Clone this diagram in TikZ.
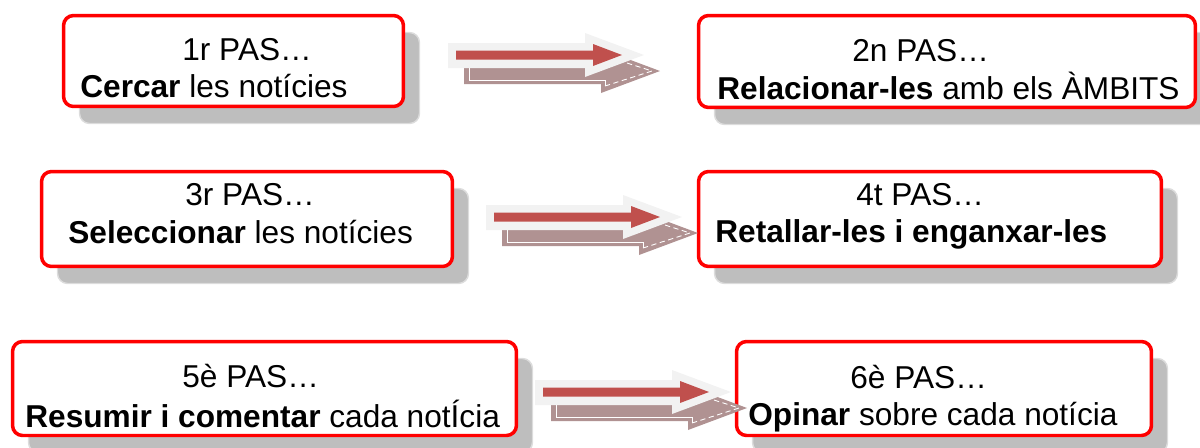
\documentclass[tikz,border=0pt]{standalone}
\usepackage{fontspec}
\setmainfont{Liberation Sans}
\usetikzlibrary{shadows}

\definecolor{boxred}{HTML}{FF0000}
\definecolor{boxshade}{HTML}{BEBEBE}
\definecolor{shadeedge}{HTML}{DCDCDC}
\definecolor{arrowred}{HTML}{C0504D}
\definecolor{arrowlight}{HTML}{F2F2F2}
\definecolor{arrowmauve}{HTML}{B09292}

\begin{document}
\begin{tikzpicture}[x=0.02cm, y=-0.02cm,
    stepbox/.style={draw=boxred, line width=0.07cm, fill=white, rounded corners=0.2cm, inner sep=0pt,
      drop shadow={shadow xshift=0.32cm, shadow yshift=-0.34cm, fill=boxshade, draw=shadeedge, line width=0.8pt, opacity=1}},
    steptext/.style={anchor=base west, inner sep=0pt, font=\fontsize{18}{22}\selectfont}]
  \useasboundingbox (0,0) rectangle (1200,447);

  \node[stepbox, minimum width=6.8cm, minimum height=1.82cm] (pas1) at (233.5,61) {};
  \node[stepbox, minimum width=9.94cm, minimum height=1.84cm] (pas2) at (947,61.5) {};
  \node[stepbox, minimum width=8.22cm, minimum height=1.9cm] (pas3) at (247,219) {};
  \node[stepbox, minimum width=9.26cm, minimum height=1.9cm] (pas4) at (930,219) {};
  \node[stepbox, minimum width=10.08cm, minimum height=1.88cm] (pas5) at (264.5,388.5) {};
  \node[stepbox, minimum width=8.3cm, minimum height=1.88cm] (pas6) at (944,388.5) {};

  \node[steptext] (pas1a) at (182,60) {1r PAS…};
  \node[steptext] (pas1b) at (80,97) {\textbf{Cercar} les notícies};
  \node[steptext] (pas2a) at (852,61) {2n PAS…};
  \node[steptext] (pas2b) at (717,99) {\textbf{Relacionar-les} amb els ÀMBITS};
  \node[steptext] (pas3a) at (185,205) {3r PAS…};
  \node[steptext] (pas3b) at (68,243) {\textbf{Seleccionar} les notícies};
  \node[steptext] (pas4a) at (856,205) {4t PAS…};
  \node[steptext] (pas4b) at (715,242) {\textbf{Retallar-les i enganxar-les}};
  \node[steptext] (pas5a) at (182,387) {5è PAS…};
  \node[steptext] (pas5b) at (25,427) {\textbf{Resumir i comentar} cada notÍcia};
  \node[steptext] (pas6a) at (850,388) {6è PAS…};
  \node[steptext] (pas6b) at (748,425) {\textbf{Opinar} sobre cada notícia};

  \foreach \sx/\cy in {448/55, 486/217, 535/392}{
    \fill[arrowmauve] (\sx+16,\cy+4) -- (\sx+153,\cy+4) -- (\sx+153,\cy-6) -- (\sx+212,\cy+16)
      -- (\sx+153,\cy+38) -- (\sx+153,\cy+29) -- (\sx+16,\cy+29) -- cycle;
    \draw[white, line width=0.5pt] (\sx+21,\cy+8) -- (\sx+21,\cy+25) -- (\sx+157,\cy+25) -- (\sx+157,\cy+31);
    \draw[white, densely dashed, line width=0.5pt] (\sx+157,\cy+31) -- (\sx+204,\cy+16) -- (\sx+157,\cy+1);
    \fill[arrowlight] (\sx,\cy-12) -- (\sx+137,\cy-12) -- (\sx+137,\cy-22) -- (\sx+196,\cy)
      -- (\sx+137,\cy+22) -- (\sx+137,\cy+13) -- (\sx,\cy+13) -- cycle;
    \fill[arrowred] (\sx+8,\cy-4.5) -- (\sx+145,\cy-4.5) -- (\sx+145,\cy-11) -- (\sx+174,\cy)
      -- (\sx+145,\cy+11) -- (\sx+145,\cy+4.5) -- (\sx+8,\cy+4.5) -- cycle;
  }
\end{tikzpicture}
\end{document}
